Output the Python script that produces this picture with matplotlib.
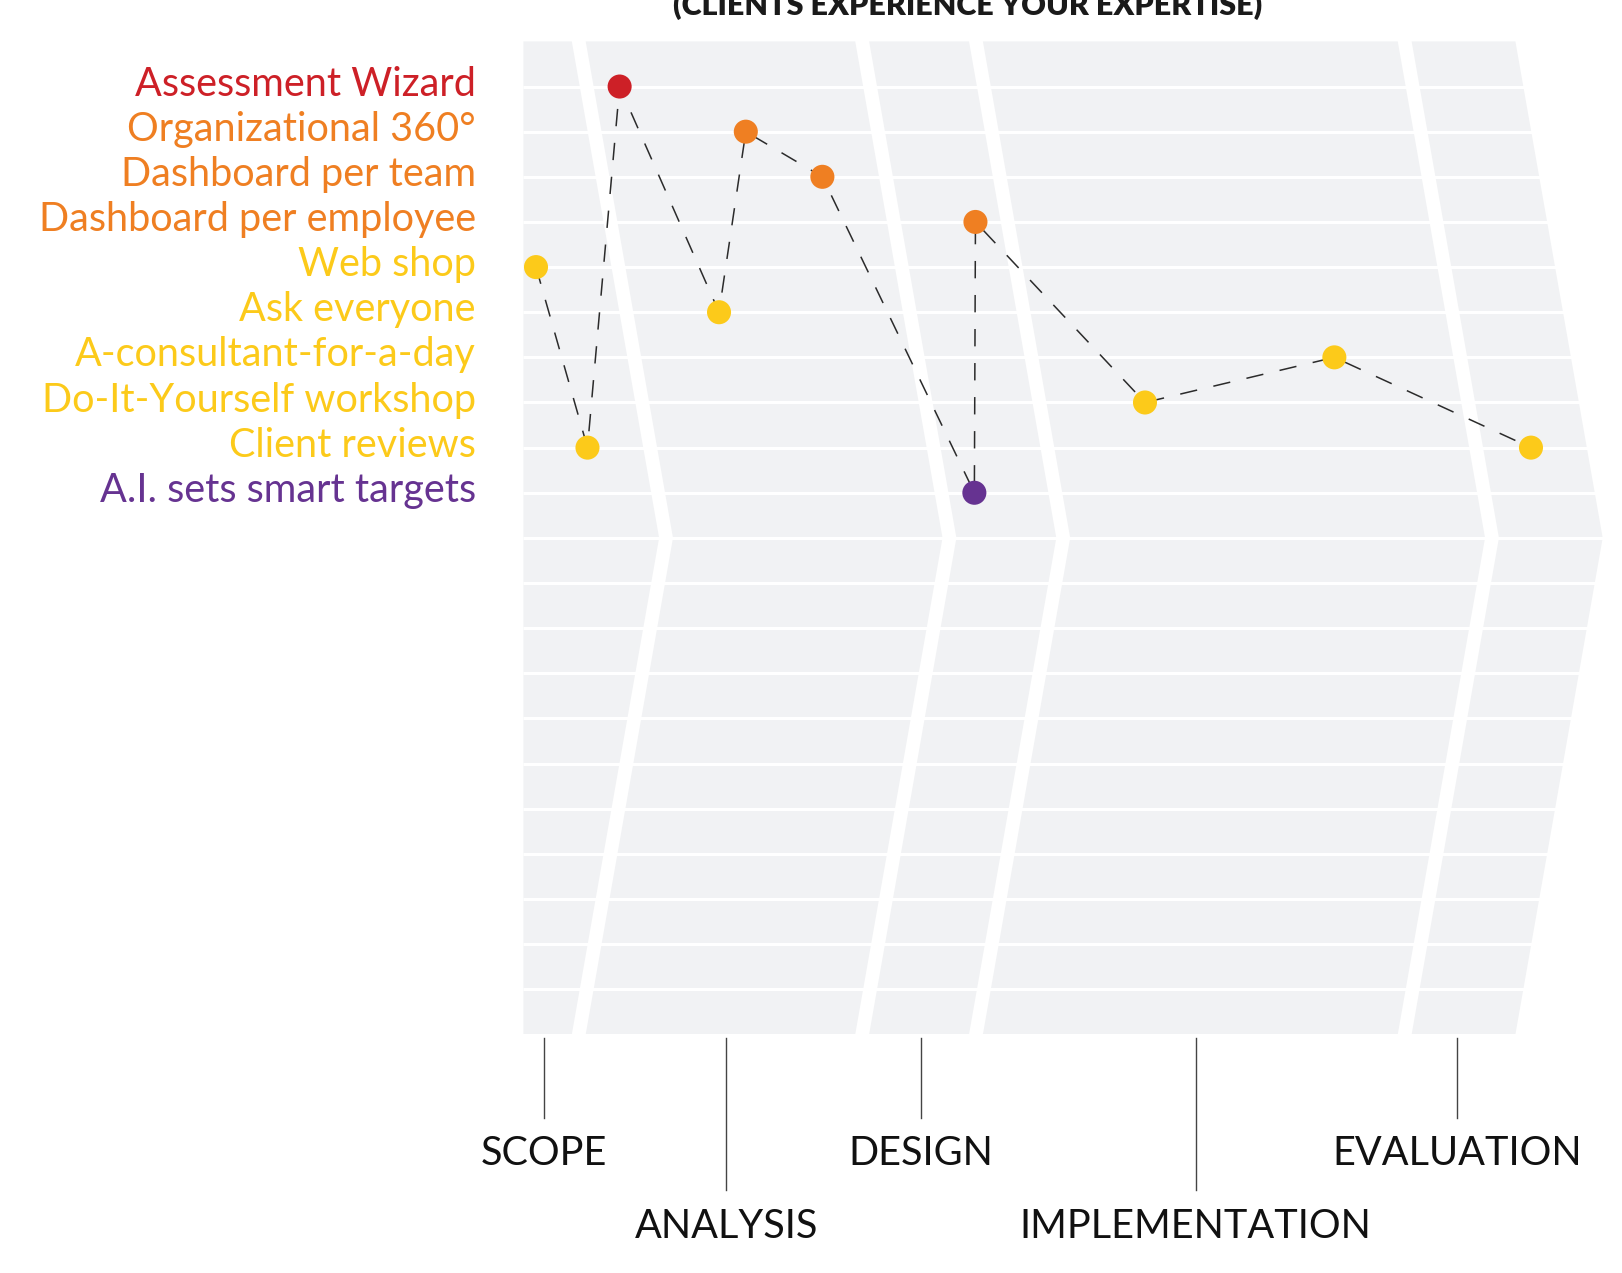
import matplotlib
matplotlib.use("Agg")
import matplotlib.pyplot as plt

plt.rcParams["font.family"] = ["Lato", "DejaVu Sans"]
plt.rcParams["lines.scale_dashes"] = False

# rows (top to bottom) and their colours
methods = [
    "Assessment Wizard",
    "Organizational 360°",
    "Dashboard per team",
    "Dashboard per employee",
    "Web shop",
    "Ask everyone",
    "A-consultant-for-a-day",
    "Do-It-Yourself workshop",
    "Client reviews",
    "A.I. sets smart targets",
]
method_colors = [
    "#CD2027", "#EF7F22", "#EF7F22", "#EF7F22",
    "#FCCA1A", "#FCCA1A", "#FCCA1A", "#FCCA1A", "#FCCA1A",
    "#663391",
]

# journey through the stages (x = progress along the process, 0..100)
path_methods = [
    "Web shop", "Client reviews", "Assessment Wizard", "Ask everyone",
    "Organizational 360°", "Dashboard per team", "A.I. sets smart targets",
    "Dashboard per employee", "Do-It-Yourself workshop",
    "A-consultant-for-a-day", "Client reviews",
]
path_x = [1.27, 6.46, 9.70, 19.72, 22.42, 30.14, 45.46, 45.57, 62.66, 81.75, 101.57]

# stages
stage_names = ["SCOPE", "ANALYSIS", "DESIGN", "IMPLEMENTATION", "EVALUATION"]
stage_breaks = [5.58, 34.15, 45.62, 88.84]
stage_label_x = [2.08, 20.43, 40.04, 67.78, 94.16]
stage_label_low = [False, True, False, True, False]

title = "(CLIENTS EXPERIENCE YOUR EXPERTISE)"

# ---- layout ----
W, H = 1622, 1273
PX_PER_UNIT = 9.92
LEFT_PX, TOP_PX, BOTTOM_PX = 523.4, 41.4, 1034.4
N_ROWS = 22
PANEL_RIGHT = 100.0
CHEVRON = 8.8
SEP_HALF = 0.7
PANEL_COLOR = "#F1F2F4"

fig = plt.figure(figsize=(W / 100, H / 100), dpi=100)
ax = fig.add_axes([LEFT_PX / W, 1 - BOTTOM_PX / H, (W - LEFT_PX) / W, (BOTTOM_PX - TOP_PX) / H])
ax.set_xlim(0, (W - LEFT_PX) / PX_PER_UNIT)
ax.set_ylim(N_ROWS, 0)
ax.axis("off")

mid = N_ROWS / 2
lefts = [None] + [b + SEP_HALF for b in stage_breaks]
rights = [b - SEP_HALF for b in stage_breaks] + [PANEL_RIGHT]
for i, (l, r) in enumerate(zip(lefts, rights)):
    if l is None:
        xs_left = [0, 0]
        ys_left = [N_ROWS, 0]
    else:
        xs_left = [l, l + CHEVRON, l]
        ys_left = [N_ROWS, mid, 0]
    xs = xs_left + [r, r + CHEVRON, r]
    ys = ys_left + [0, mid, N_ROWS]
    ax.fill(xs, ys, color=PANEL_COLOR, lw=0, zorder=1)

ax.hlines(range(1, N_ROWS), 0, PANEL_RIGHT + CHEVRON + 1, colors="white", lw=2.2, zorder=2)

# path
row_of = {m: i + 1 for i, m in enumerate(methods)}
color_of = dict(zip(methods, method_colors))
path_y = [row_of[m] for m in path_methods]
ax.plot(path_x, path_y, color="#2b2b2b", lw=1.1, linestyle=(0, (12.5, 12)), zorder=3)
ax.scatter(path_x, path_y, s=300, c=[color_of[m] for m in path_methods],
           linewidths=0, zorder=4, clip_on=False)

# method labels
for i, (m, c) in enumerate(zip(methods, method_colors)):
    ax.text(-4.78, i + 1 + 0.2, m, ha="right", va="baseline", color=c,
            fontsize=28.5, clip_on=False)

# stage labels with leader lines
for name, x, low in zip(stage_names, stage_label_x, stage_label_low):
    y_end = 25.44 if low else 23.85
    y_txt = 26.51 if low else 24.89
    ax.plot([x, x], [22.07, y_end], color="#444444", lw=1, clip_on=False)
    ax.text(x, y_txt, name, ha="center", va="baseline", color="#111111",
            fontsize=28.5, clip_on=False)

fig.text(968 / W, 1 - 15 / H, title, ha="center", va="baseline",
         fontsize=22, fontweight="heavy", color="#1a1a1a")

fig.savefig("out.png", dpi=100)
